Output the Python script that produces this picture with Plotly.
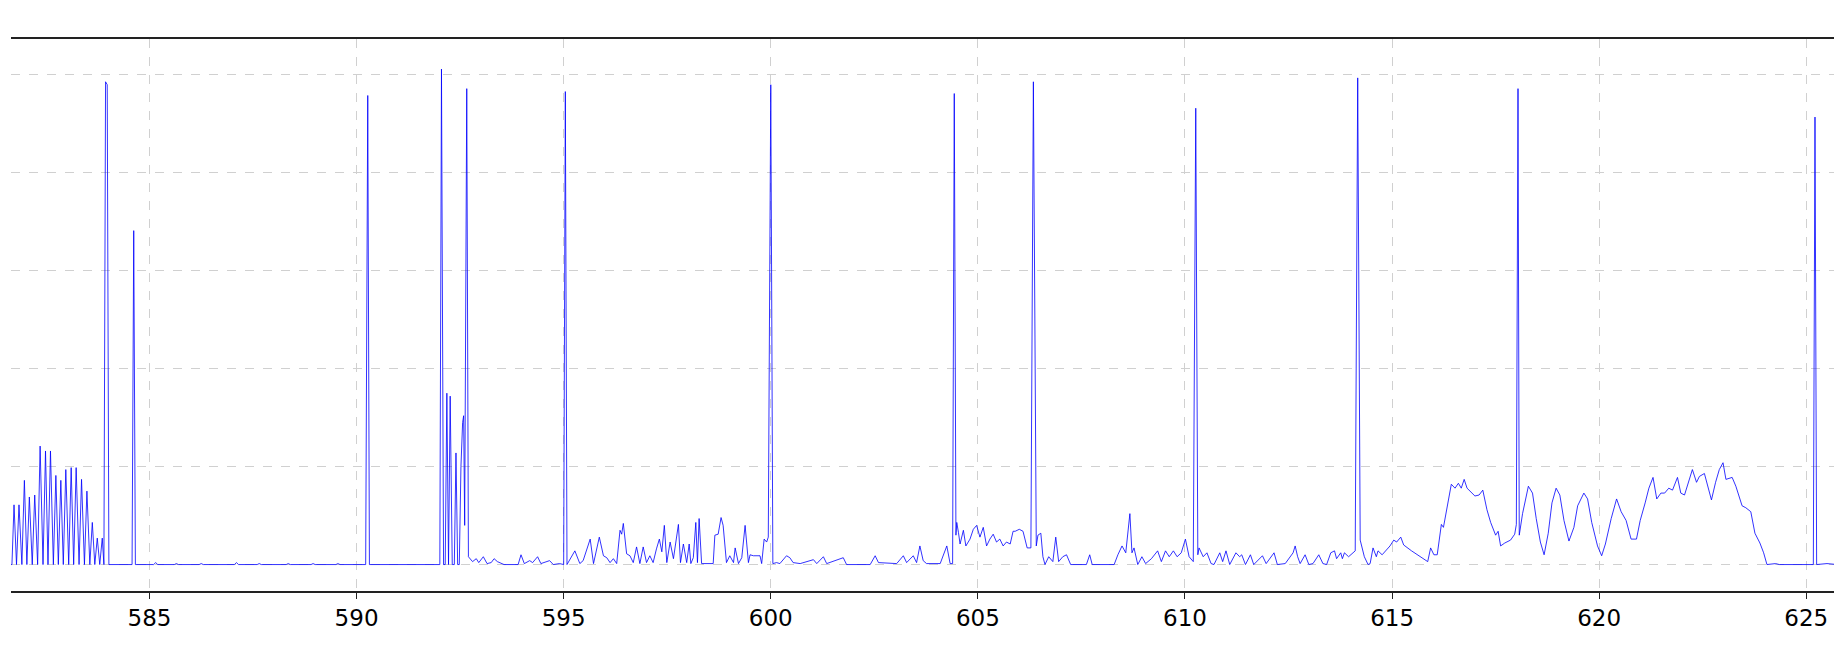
import plotly.graph_objects as go

# ---- data ----
wavelength_nm = [
    581.60, 581.68, 581.73, 581.79, 581.85, 581.92, 581.98, 582.04, 582.10, 582.17,
    582.23, 582.30, 582.36, 582.43, 582.49, 582.55, 582.61, 582.68, 582.74, 582.80,
    582.86, 582.92, 582.98, 583.05, 583.11, 583.17, 583.23, 583.30, 583.36, 583.43,
    583.49, 583.56, 583.62, 583.68, 583.74, 583.80, 583.86, 583.90, 583.94, 583.98,
    584.02, 584.58, 584.62, 584.66, 585.10, 585.15, 585.20, 585.60, 585.65, 585.70,
    586.20, 586.25, 586.30, 587.05, 587.10, 587.15, 587.60, 587.65, 587.70, 588.30,
    588.35, 588.40, 588.90, 588.95, 589.00, 589.50, 589.55, 589.60, 590.22, 590.27,
    590.31, 592.01, 592.05, 592.10, 592.14, 592.18, 592.22, 592.26, 592.31, 592.36,
    592.40, 592.44, 592.48, 592.52, 592.56, 592.585, 592.61, 592.66, 592.70, 592.80,
    592.89, 592.95, 593.06, 593.15, 593.25, 593.32, 593.40, 593.56, 593.90, 593.97,
    594.05, 594.18, 594.25, 594.37, 594.45, 594.66, 594.75, 594.90, 595.00, 595.04,
    595.08, 595.27, 595.39, 595.47, 595.64, 595.72, 595.86, 595.96, 596.04, 596.12,
    596.20, 596.28, 596.36, 596.40, 596.44, 596.52, 596.60, 596.68, 596.76, 596.84,
    596.92, 597.00, 597.08, 597.16, 597.24, 597.31, 597.37, 597.43, 597.49, 597.57,
    597.65, 597.69, 597.77, 597.82, 597.89, 597.97, 598.03, 598.07, 598.13, 598.19,
    598.23, 598.27, 598.33, 598.61, 598.65, 598.73, 598.80, 598.85, 598.89, 598.93,
    599.01, 599.10, 599.14, 599.22, 599.30, 599.38, 599.46, 599.50, 599.58, 599.66,
    599.74, 599.78, 599.84, 599.90, 599.94, 600.00, 600.05, 600.14, 600.22, 600.38,
    600.46, 600.54, 600.71, 601.03, 601.11, 601.27, 601.35, 601.75, 601.83, 602.40,
    602.52, 602.60, 603.04, 603.20, 603.28, 603.44, 603.52, 603.60, 603.68, 603.76,
    604.09, 604.25, 604.33, 604.39, 604.43, 604.47, 604.49, 604.53, 604.57, 604.65,
    604.71, 604.81, 604.89, 604.97, 605.05, 605.13, 605.21, 605.29, 605.37, 605.45,
    605.53, 605.61, 605.69, 605.78, 605.85, 605.90, 606.00, 606.09, 606.19, 606.28,
    606.34, 606.41, 606.45, 606.52, 606.57, 606.62, 606.71, 606.81, 606.88, 606.95,
    607.05, 607.14, 607.24, 607.62, 607.70, 607.76, 608.29, 608.38, 608.48, 608.57,
    608.67, 608.72, 608.77, 608.86, 608.96, 609.05, 609.19, 609.34, 609.43, 609.53,
    609.62, 609.72, 609.81, 609.91, 610.01, 610.10, 610.20, 610.26, 610.31, 610.34,
    610.44, 610.53, 610.63, 610.70, 610.84, 610.91, 610.99, 611.08, 611.23, 611.32,
    611.37, 611.46, 611.58, 611.66, 611.87, 611.96, 612.15, 612.23, 612.42, 612.61,
    612.66, 612.72, 612.78, 612.90, 612.99, 613.09, 613.23, 613.33, 613.42, 613.52,
    613.61, 613.66, 613.76, 613.80, 613.85, 613.95, 614.04, 614.11, 614.17, 614.23,
    614.33, 614.42, 614.47, 614.54, 614.62, 614.66, 614.76, 614.85, 614.95, 615.04,
    615.11, 615.21, 615.28, 615.47, 615.67, 615.86, 615.93, 616.01, 616.09, 616.19,
    616.24, 616.33, 616.43, 616.52, 616.60, 616.67, 616.74, 616.81, 617.00, 617.10,
    617.19, 617.29, 617.38, 617.50, 617.56, 617.62, 617.72, 617.86, 617.96, 618.00,
    618.04, 618.07, 618.15, 618.29, 618.39, 618.48, 618.58, 618.67, 618.77, 618.86,
    618.96, 619.05, 619.15, 619.27, 619.39, 619.48, 619.63, 619.72, 619.82, 619.96,
    620.06, 620.15, 620.29, 620.42, 620.53, 620.65, 620.77, 620.90, 620.99, 621.11,
    621.20, 621.30, 621.39, 621.49, 621.58, 621.68, 621.77, 621.89, 621.97, 622.06,
    622.16, 622.25, 622.35, 622.42, 622.54, 622.63, 622.71, 622.81, 622.90, 622.99,
    623.06, 623.21, 623.30, 623.45, 623.54, 623.66, 623.76, 623.88, 623.97, 624.05,
    624.26, 624.35, 625.17, 625.21, 625.25, 625.50, 625.75,
]

intensity = [
    0.00, 0.00, 0.61, 0.00, 0.61, 0.00, 0.86, 0.00, 0.69, 0.00,
    0.71, 0.00, 1.21, 0.00, 1.16, 0.00, 1.16, 0.00, 0.91, 0.00,
    0.86, 0.00, 0.97, 0.00, 0.99, 0.00, 0.99, 0.00, 0.87, 0.00,
    0.75, 0.00, 0.43, 0.00, 0.27, 0.00, 0.27, 0.00, 4.93, 4.90,
    0.00, 0.00, 3.41, 0.00, 0.00, 0.02, 0.00, 0.00, 0.01, 0.00,
    0.00, 0.01, 0.00, 0.00, 0.02, 0.00, 0.00, 0.01, 0.00, 0.00,
    0.01, 0.00, 0.00, 0.01, 0.00, 0.00, 0.01, 0.00, 0.00, 4.79,
    0.00, 0.00, 5.06, 0.00, 0.00, 1.75, 0.00, 1.72, 0.00, 0.00,
    1.14, 0.00, 0.00, 1.00, 1.45, 1.52, 0.40, 4.86, 0.08, 0.03,
    0.06, 0.02, 0.08, 0.01, 0.02, 0.06, 0.03, 0.00, 0.00, 0.10,
    0.01, 0.04, 0.02, 0.08, 0.01, 0.04, 0.00, 0.01, 0.00, 4.83,
    0.00, 0.14, 0.01, 0.04, 0.26, 0.01, 0.28, 0.09, 0.07, 0.02,
    0.06, 0.01, 0.35, 0.31, 0.42, 0.11, 0.09, 0.02, 0.18, 0.01,
    0.18, 0.02, 0.09, 0.02, 0.16, 0.26, 0.13, 0.40, 0.02, 0.23,
    0.06, 0.19, 0.41, 0.02, 0.21, 0.02, 0.21, 0.01, 0.07, 0.43,
    0.02, 0.47, 0.01, 0.01, 0.30, 0.31, 0.48, 0.40, 0.16, 0.02,
    0.09, 0.02, 0.17, 0.01, 0.07, 0.40, 0.02, 0.10, 0.09, 0.09,
    0.09, 0.01, 0.26, 0.23, 0.28, 4.90, 0.01, 0.02, 0.01, 0.09,
    0.07, 0.02, 0.01, 0.05, 0.01, 0.08, 0.01, 0.07, 0.00, 0.00,
    0.09, 0.02, 0.01, 0.09, 0.02, 0.09, 0.02, 0.19, 0.04, 0.01,
    0.01, 0.19, 0.01, 0.01, 4.81, 0.30, 0.43, 0.33, 0.21, 0.35,
    0.19, 0.26, 0.36, 0.40, 0.28, 0.38, 0.19, 0.26, 0.31, 0.23,
    0.26, 0.19, 0.23, 0.21, 0.34, 0.34, 0.36, 0.34, 0.17, 0.17,
    4.93, 0.19, 0.30, 0.32, 0.08, 0.00, 0.08, 0.03, 0.28, 0.03,
    0.08, 0.10, 0.00, 0.00, 0.10, 0.00, 0.00, 0.10, 0.19, 0.12,
    0.52, 0.12, 0.17, 0.00, 0.08, 0.01, 0.06, 0.14, 0.03, 0.14,
    0.08, 0.14, 0.08, 0.12, 0.26, 0.08, 0.03, 4.66, 0.10, 0.17,
    0.08, 0.12, 0.01, 0.00, 0.12, 0.03, 0.14, 0.00, 0.12, 0.08,
    0.10, 0.00, 0.10, 0.00, 0.09, 0.01, 0.12, 0.00, 0.01, 0.12,
    0.19, 0.08, 0.01, 0.10, 0.00, 0.01, 0.10, 0.01, 0.00, 0.12,
    0.14, 0.06, 0.12, 0.06, 0.12, 0.08, 0.12, 0.14, 4.97, 0.25,
    0.08, 0.00, 0.01, 0.17, 0.08, 0.14, 0.10, 0.14, 0.19, 0.25,
    0.23, 0.28, 0.20, 0.14, 0.08, 0.03, 0.17, 0.10, 0.10, 0.41,
    0.38, 0.60, 0.82, 0.78, 0.83, 0.78, 0.87, 0.78, 0.70, 0.71,
    0.76, 0.56, 0.43, 0.30, 0.34, 0.19, 0.22, 0.25, 0.31, 0.41,
    4.86, 0.30, 0.52, 0.80, 0.73, 0.47, 0.23, 0.10, 0.32, 0.63,
    0.78, 0.71, 0.45, 0.24, 0.38, 0.60, 0.73, 0.67, 0.43, 0.19,
    0.09, 0.21, 0.47, 0.67, 0.54, 0.45, 0.26, 0.26, 0.45, 0.63,
    0.78, 0.89, 0.67, 0.73, 0.73, 0.78, 0.76, 0.89, 0.73, 0.71,
    0.84, 0.97, 0.84, 0.90, 0.93, 0.78, 0.66, 0.84, 0.97, 1.04,
    0.87, 0.89, 0.80, 0.60, 0.58, 0.54, 0.32, 0.22, 0.12, 0.00,
    0.01, 0.00, 0.00, 4.57, 0.00, 0.01, 0.00,
]

x_ticks = [585, 590, 595, 600, 605, 610, 615, 620, 625]
y_grid = [0, 1, 2, 3, 4, 5]

# ---- figure ----
fig = go.Figure()
fig.add_trace(go.Scatter(
    x=wavelength_nm, y=intensity, mode="lines",
    line=dict(color="rgba(0,0,255,0.8)", width=1),
    showlegend=False, hoverinfo="skip",
))

fig.update_layout(
    width=1834, height=672,
    margin=dict(l=11, r=0, t=39, b=81, pad=0),
    paper_bgcolor="white", plot_bgcolor="white",
    font=dict(family="DejaVu Sans", size=23, color="black"),
)
fig.update_xaxes(
    range=[581.657, 625.669],
    tickvals=x_ticks, ticktext=[str(t) for t in x_ticks],
    showgrid=True, gridcolor="#d0d0d0", griddash="dash", gridwidth=1,
    showline=True, linecolor="#222222", linewidth=1.5, mirror=True,
    ticks="outside", ticklen=6, tickcolor="#222222", tickwidth=1,
    zeroline=False,
)
fig.update_yaxes(
    range=[-0.270, 5.367],
    tickvals=y_grid, showticklabels=False,
    showgrid=True, gridcolor="#d0d0d0", griddash="dash", gridwidth=1,
    showline=False, zeroline=False, ticks="",
)

fig.write_html(
    "out.html",
    config={"displayModeBar": False},
    post_script="document.body.style.margin='0';",
)
